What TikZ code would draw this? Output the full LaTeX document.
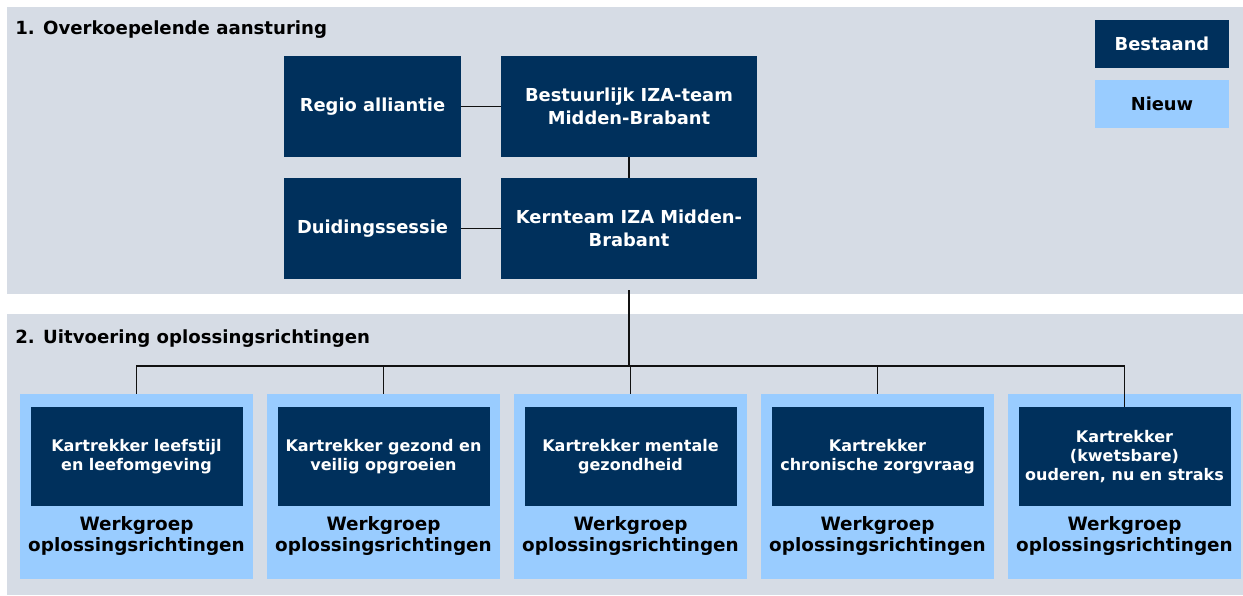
\documentclass[tikz,border=0pt]{standalone}
\usepackage{fontspec}
\setmainfont{DejaVu Sans}
\usetikzlibrary{positioning}
\definecolor{cNavy}{HTML}{00305C}
\definecolor{cSky}{HTML}{99CCFF}
\definecolor{cPanel}{HTML}{D6DCE5}
\definecolor{cInk}{HTML}{111111}
\tikzset{
  panel/.style={fill=cPanel, draw=none},
  ttl/.style={anchor=west, font=\bfseries\fontsize{13.6}{15}\selectfont, text=black, inner sep=0pt},
  dbox/.style={fill=cNavy, draw=none, text=white, align=center, font=\bfseries\fontsize{13.4}{17}\selectfont, inner sep=2pt},
  kbox/.style={fill=cNavy, draw=none, text=white, align=center, font=\bfseries\fontsize{12}{14.5}\selectfont, inner sep=2pt, minimum width=159pt, minimum height=74.25pt},
  wbox/.style={fill=cSky, draw=none, minimum width=174.75pt, minimum height=138.75pt, inner sep=0pt},
  wtxt/.style={align=center, font=\bfseries\fontsize{13.8}{16.3}\selectfont, text=black, inner sep=0pt},
  lnk/.style={line width=1.1pt, draw=cInk},
}
\begin{document}
\begin{tikzpicture}[x=0.75pt, y=-0.75pt]
\useasboundingbox (0,0) rectangle (1243,596);
% panels
\fill[panel] (7,7) rectangle (1243,294);
\fill[panel] (7,314) rectangle (1243,595);
\node[ttl] (t1) at (15,30) {1. Overkoepelende aansturing};
\node[ttl] (t2) at (15,339) {2. Uitvoering oplossingsrichtingen};
% legend
\node[dbox, minimum width=100.5pt, minimum height=36pt] (bestaand) at (1162,44) {Bestaand};
\node[dbox, fill=cSky, text=black, minimum width=100.5pt, minimum height=36pt] (nieuw) at (1162,104) {Nieuw};
% (1)
\node[dbox, minimum width=132.75pt, minimum height=75.75pt] (regio) at (372.5,106.5) {Regio alliantie};
\node[dbox, minimum width=192pt, minimum height=75.75pt] (bestuur) at (629,106.5) {Bestuurlijk IZA-team\\Midden-Brabant};
\node[dbox, minimum width=132.75pt, minimum height=75.75pt] (duiding) at (372.5,228.5) {Duidingssessie};
\node[dbox, minimum width=192pt, minimum height=75.75pt] (kern) at (629,228.5) {Kernteam IZA Midden-\\Brabant};
\draw[lnk] (regio)--(bestuur);
\draw[lnk] (duiding)--(kern);
\draw[lnk] (bestuur)--(kern);
% (2)
\foreach \i/\txt in {1/{Kartrekker leefstijl\\en leefomgeving},
                     2/{Kartrekker gezond en\\veilig opgroeien},
                     3/{Kartrekker mentale\\gezondheid},
                     4/{Kartrekker\\chronische zorgvraag},
                     5/{Kartrekker\\(kwetsbare)\\ouderen, nu en straks}}{
  \pgfmathsetmacro{\cx}{136.5+247*(\i-1)}
  \node[wbox] (wg\i) at (\cx,486.5) {};
  \node[kbox] (kt\i) at (\cx,456.5) {\txt};
  \node[wtxt] (wl\i) at (\cx,536) {Werkgroep\\oplossingsrichtingen};
}
\coordinate (kdown) at (629,290);
\coordinate (bus) at (629,366);
\draw[lnk] (kdown)--(bus);
\draw[lnk] (wg1.north)--(wg1.north|-bus)--(wg5.north|-bus)--(kt5.north);
\foreach \x in {2,3,4} \draw[lnk] (wg\x.north)--(wg\x.north|-bus);
\end{tikzpicture}
\end{document}
